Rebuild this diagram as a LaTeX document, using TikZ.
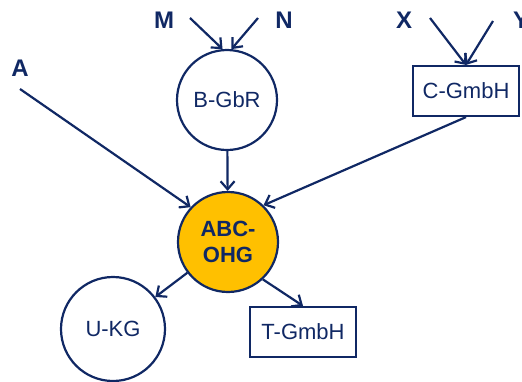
\documentclass[tikz,border=0pt]{standalone}
\usepackage{fontspec}
\setmainfont{Liberation Sans}
\usetikzlibrary{arrows.meta}
\definecolor{navy}{RGB}{16,40,100}
\definecolor{gold}{RGB}{255,192,0}
\tikzset{
  ent/.style={circle,draw=navy,line width=2.2pt,inner sep=0pt,text=navy,font=\fontsize{22}{24}\selectfont},
  box/.style={rectangle,draw=navy,line width=2.2pt,inner sep=0pt,text=navy,font=\fontsize{22}{24}\selectfont,minimum width=106pt,minimum height=50pt},
  lbl/.style={text=navy,font=\bfseries\fontsize{24}{26}\selectfont,inner sep=0pt},
  conn/.style={draw=navy,line width=2.2pt,-{Straight Barb[length=8pt,width=14pt,line width=2.2pt]}}
}
\begin{document}
\begin{tikzpicture}[x=1pt,y=-1pt]
\useasboundingbox (0,0) rectangle (522,381);
\node[ent,minimum size=100pt] (b) at (227,100) {B-GbR};
\node[ent,minimum size=100pt,fill=gold,font=\bfseries\fontsize{22}{26}\selectfont,align=center] (abc) at (228,242) {ABC-\\OHG};
\node[ent,minimum size=104pt] (u) at (113,329) {U-KG};
\node[box] (c) at (466,91) {C-GmbH};
\node[box] (t) at (303,332) {T-GmbH};
\node[lbl] (m) at (164,20) {M};
\node[lbl] (n) at (284,20) {N};
\node[lbl] (x) at (404,20) {X};
\node[lbl] (y) at (521,20) {Y};
\node[lbl] (a) at (20,68) {A};
\coordinate (m1) at (190,18);
\coordinate (n1) at (258,18);
\coordinate (x1) at (430,18);
\coordinate (y1) at (493,21);
\coordinate (a1) at (20,89);
\draw[conn] (m1) -- (b.95);
\draw[conn] (n1) -- (b.85);
\draw[conn] (x1) -- (c.north);
\draw[conn] (y1) -- (c.north);
\draw[conn] (a1) -- (abc.137);
\draw[conn] (b) -- (abc);
\draw[conn] (c.south) -- (abc.46);
\draw[conn] (abc) -- (u);
\draw[conn] (abc.-47) -- (t.north);
\end{tikzpicture}
\end{document}
